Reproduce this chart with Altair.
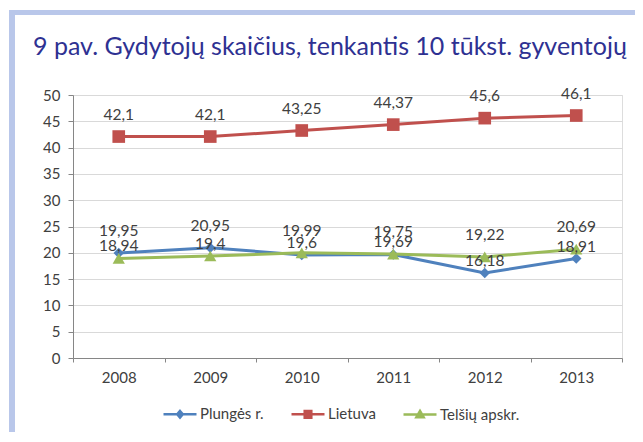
import altair as alt
import pandas as pd

# ---- data ----
years = ["2008", "2009", "2010", "2011", "2012", "2013"]
plunges = [19.95, 20.95, 19.6, 19.69, 16.18, 18.91]
lietuva = [42.1, 42.1, 43.25, 44.37, 45.6, 46.1]
telsiu = [18.94, 19.4, 19.99, 19.75, 19.22, 20.69]
series = ["Plungės r.", "Lietuva", "Telšių apskr."]
colors = ["#4F81BD", "#C0504D", "#9BBB59"]
title_text = "9 pav. Gydytojų skaičius, tenkantis 10 tūkst. gyventojų"
y_ticks = [0, 5, 10, 15, 20, 25, 30, 35, 40, 45, 50]

rows = []
for name, vals in zip(series, [plunges, lietuva, telsiu]):
    for yr, v in zip(years, vals):
        rows.append({"year": yr, "series": name, "v": v})
df = pd.DataFrame(rows)

FONT = "Lato"
TXT = "#404040"
BORDER = "#B9C7EA"

x_enc = alt.X("year:N", sort=years, title=None,
              scale=alt.Scale(paddingInner=0, paddingOuter=0),
              axis=alt.Axis(labelAngle=0, tickBand="extent", grid=False,
                            domainColor="#868686", tickColor="#868686",
                            tickSize=4, labelPadding=8, labelFont=FONT,
                            labelFontSize=15, labelColor=TXT))
y_enc = alt.Y("v:Q", title=None,
              scale=alt.Scale(domain=[0, 50], nice=False),
              axis=alt.Axis(values=y_ticks, gridColor="#D9D9D9",
                            domainColor="#868686", tickColor="#868686",
                            tickSize=5, labelPadding=8, labelFont=FONT,
                            labelFontSize=15, labelColor=TXT))
color_scale = alt.Scale(domain=series, range=colors)

base = alt.Chart(df)

shapes = {"Plungės r.": ("diamond", 110), "Lietuva": ("square", 160),
          "Telšių apskr.": ("triangle-up", 150)}
series_layers = []
for name, col in zip(series, colors):
    shp, sz = shapes[name]
    sub = base.transform_filter(alt.datum.series == name)
    series_layers.append(sub.mark_line(strokeWidth=3, color=col)
                         .encode(x=x_enc, y=y_enc))
    series_layers.append(sub.mark_point(shape=shp, size=sz, filled=True,
                                        opacity=1, color=col)
                         .encode(x=x_enc, y=y_enc))

label_calc = "replace(toString(datum.v), '.', ',')"
txt_kw = dict(font=FONT, fontSize=15.5, color=TXT, baseline="middle")

lab_lt = (base.transform_filter(alt.datum.series == "Lietuva")
          .transform_calculate(lbl=label_calc)
          .mark_text(dy=-22, **txt_kw)
          .encode(x=x_enc, y=y_enc, text="lbl:N"))

low = (base.transform_filter(alt.datum.series != "Lietuva")
       .transform_joinaggregate(mx="max(v)", groupby=["year"])
       .transform_calculate(lbl=label_calc))
lab_top = (low.transform_filter("datum.v == datum.mx")
           .mark_text(dy=-22, **txt_kw)
           .encode(x=x_enc, y=y_enc, text="lbl:N"))
lab_bot = (low.transform_filter("datum.v < datum.mx")
           .mark_text(dy=-12, **txt_kw)
           .encode(x=x_enc, y=y_enc, text="lbl:N"))

# legend layer (invisible marks, only legend); stroked line + marker symbols
legend_paths = [
    "M-1,0H1M0,-0.2L0.17,0L0,0.2L-0.17,0ZM0,-0.08L0.07,0L0,0.08L-0.07,0Z",
    "M-1,0H1M-0.2,-0.2H0.2V0.2H-0.2ZM-0.08,-0.08H0.08V0.08H-0.08Z",
    "M-1,0H1M0,-0.22L0.22,0.16H-0.22ZM0,-0.07L0.08,0.09H-0.08Z",
]
leg = alt.Legend(
    orient="none", legendX=89, legendY=301, direction="horizontal",
    title=None, symbolSize=1089, symbolStrokeWidth=2.5, symbolOpacity=1,
    labelFont=FONT, labelFontSize=15, labelColor=TXT,
    labelOffset=2, columnPadding=22, padding=0,
)
legend_layer = (base.mark_point(filled=False, opacity=0)
                .encode(x=x_enc, y=y_enc,
                        color=alt.Color("series:N", scale=color_scale, legend=leg),
                        shape=alt.Shape("series:N",
                                        scale=alt.Scale(domain=series, range=legend_paths),
                                        legend=leg)))

one = alt.Chart(pd.DataFrame({"t": [title_text]}))
left_band = one.mark_rule(color=BORDER, strokeWidth=6).encode(
    x=alt.value(-61), y=alt.value(-85), y2=alt.value(347))
top_band = one.mark_rule(color=BORDER, strokeWidth=5).encode(
    x=alt.value(-64), x2=alt.value(570), y=alt.value(-82.5))
title = one.mark_text(align="left", baseline="alphabetic", font=FONT,
                      fontSize=25, color="#2E3192").encode(
    x=alt.value(-40), y=alt.value(-40), text="t:N")

chart = alt.layer(
    left_band, top_band, title, legend_layer,
    *series_layers, lab_lt, lab_top, lab_bot,
).properties(
    width=549, height=263,
    autosize=alt.AutoSizeParams(type="none"),
    padding={"left": 65, "top": 87, "right": 13, "bottom": 74},
).configure_view(stroke="#D9D9D9").configure(background="white"
).configure_legend(labelFont=FONT, labelFontSize=15, labelColor=TXT,
                   labelLimit=300, symbolStrokeWidth=2.5)

chart.save("out.html", embed_options={"renderer": "svg", "actions": False})
